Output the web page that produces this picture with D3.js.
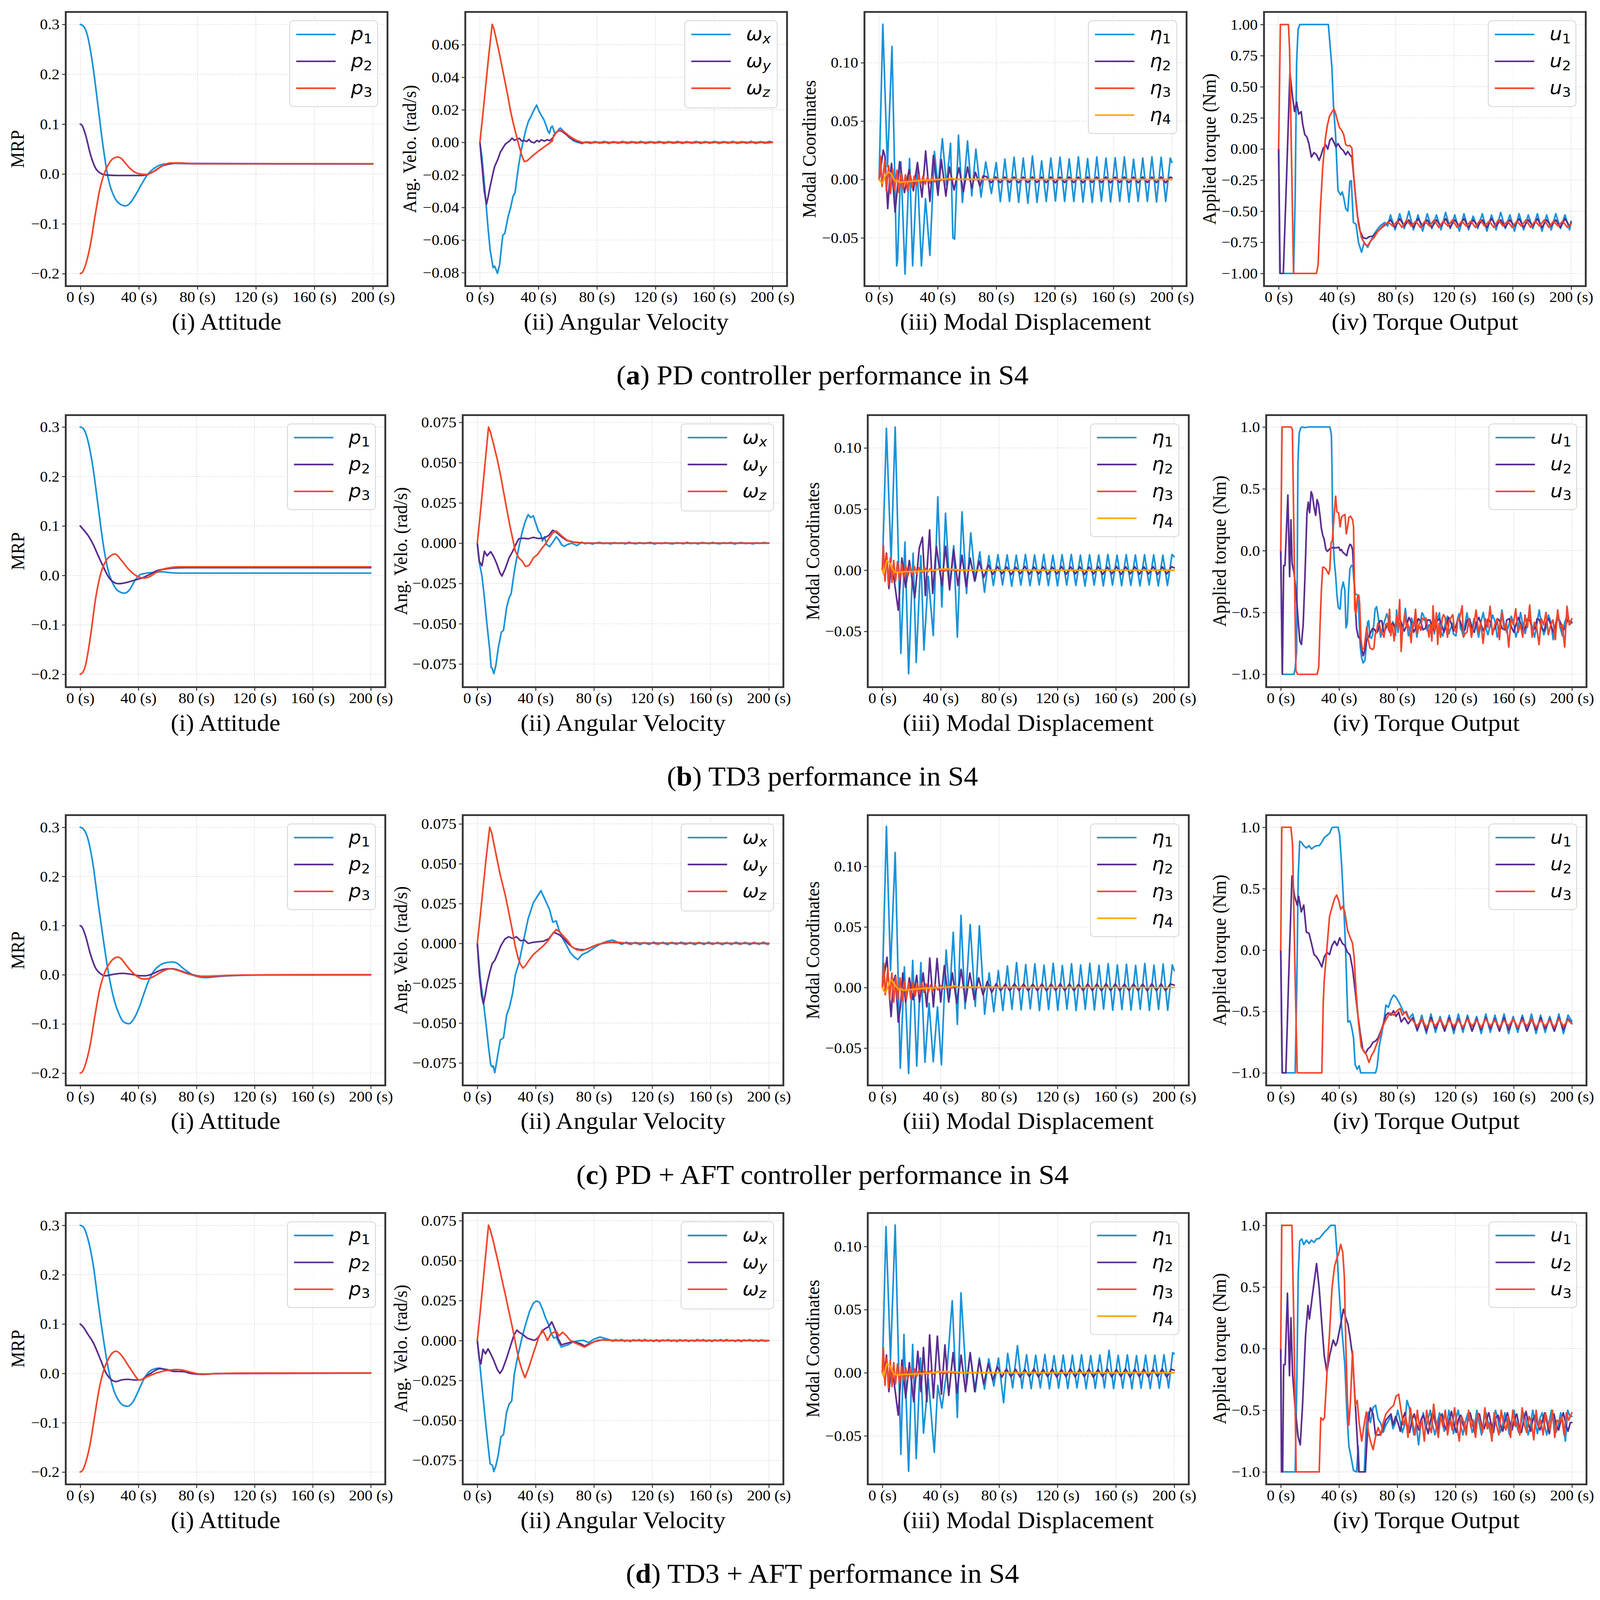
<!DOCTYPE html>
<html><head><meta charset="utf-8">
<script src="https://cdn.jsdelivr.net/npm/d3@7"></script>
<style>html,body{margin:0;padding:0;width:100%;height:100%;overflow:hidden;background:#fff}svg{display:block;width:100vw;height:100vh}</style>
</head><body>
<svg id="fig" viewBox="0 0 4381 4552" preserveAspectRatio="none"></svg>
<script>
// ---------------- DATA ----------------
const X_TICKS = [0,40,80,120,160,200];
const X_DOMAIN = [-10,210];
const Y_DOMAINS = [
 [[-.225,.325],[-.0883,.0801],[-.0913,.1435],[-1.102,1.101]],
 [[-.226,.324],[-.0894,.0795],[-.0956,.1268],[-1.104,1.096]],
 [[-.225,.3247],[-.0891,.0805],[-.0808,.1423],[-1.102,1.099]],
 [[-.225,.325],[-.090,.0798],[-.0884,.1265],[-1.101,1.1]]];
const Y_TICKS_ATT = [-.2,-.1,0,.1,.2,.3];
const Y_TICKS_VEL_A = [-.08,-.06,-.04,-.02,0,.02,.04,.06];
const Y_TICKS_VEL = [-.075,-.05,-.025,0,.025,.05,.075];
const Y_TICKS_MOD = [-.05,0,.05,.1];
const Y_TICKS_TRQ_A = [-1,-.75,-.5,-.25,0,.25,.5,.75,1];
const Y_TICKS_TRQ = [-1,-.5,0,.5,1];
const HALF = 3.139; // half period of the flexible-mode oscillation (s)

const SUBTITLES = ['(i) Attitude','(ii) Angular Velocity','(iii) Modal Displacement','(iv) Torque Output'];
const Y_LABELS = ['MRP','Ang. Velo. (rad/s)','Modal Coordinates','Applied torque (Nm)'];
const CAPTION_TAGS = ['a','b','c','d'];
const CAPTION_TEXTS = [' PD controller performance in S4',' TD3 performance in S4',' PD + AFT controller performance in S4',' TD3 + AFT performance in S4'];

// ===== Row (a) PD =====
const A_p1 = [[0,.3],[2,.297],[5,.276],[8.7,.214],[12.2,.133],[15.7,.052],[19.2,-.011],[22.7,-.043],[26.5,-.059],[30.8,-.064],[33.5,-.06],[36.7,-.047],[42,-.02],[45.5,-.003],[50.7,.012],[57.7,.02],[65,.021],[80,.0203],[200,.02]];
const A_p2 = [[0,.1],[1,.098],[3.5,.079],[7,.038],[10.5,.011],[14,.001],[17.5,-.002],[25,-.003],[35,-.003],[42,-.003],[46,-.001],[50.7,.006],[56,.016],[61,.02],[66,.022],[75,.021],[200,.0203]];
const A_p3 = [[0,-.2],[1.5,-.197],[4,-.178],[7,-.14],[10,-.085],[13,-.035],[16,-.002],[19,.018],[22,.03],[25.5,.034],[28,.031],[31,.021],[34,.011],[37,.004],[41,0],[45,-.001],[49,.003],[53,.011],[57,.018],[62,.022],[68,.022],[80,.0205],[200,.0205]];

const A_wx = [[0,0],[1.5,-.01],[3.5,-.03],[5.5,-.052],[7,-.066],[9,-.077],[10,-.076],[11,-.078],[12,-.0805],[13.5,-.075],[15,-.062],[15.7,-.057],[17,-.056],[19.2,-.046],[21,-.04],[22.7,-.033],[24,-.031],[26.2,-.016],[28,-.006],[29.7,.001],[31.5,.008],[33.2,.013],[35,.016],[37,.02],[38.8,.0229],[40.5,.019],[42,.0165],[43.7,.014],[45,.011],[46.5,.007],[47.5,.0055],[48.5,.009],[49.5,.01],[51,.006],[52.5,.006],[54,.008],[55,.0088],[57,.007],[59,.005],[61,.003],[64,.001],[67,0],[70,-.0008]];
const A_wx_tail = [.0004,-.0007,.0005,-.0006,.0006,-.0007,.0005,-.0006,.0006,-.0007,.0005,-.0006,.0006,-.0007,.0005,-.0006,.0006,-.0007,.0005,-.0006,.0006,-.0007,.0005,-.0006,.0006,-.0007,.0005,-.0006,.0006,-.0007,.0005,-.0006,.0006,-.0007,.0005,-.0006,.0006,-.0007,.0005,-.0006,.0006];
const A_wy = [[0,0],[1.5,-.015],[3,-.03],[4.5,-.038],[5.5,-.034],[7,-.027],[8.7,-.02],[10,-.015],[12.2,-.0105],[14,-.006],[16,-.003],[17.5,-.001],[19,0],[20.5,.001],[22,.0026],[23.5,.0012],[25,.0018],[27,.0025],[28.5,.0008],[30,.0012],[32,.0005],[33.5,.0018],[35,.0003],[37,-.0003],[39,.0012],[40.5,.0004],[42,.0016],[44,.0008],[46,.0016],[48,.001],[50,.003],[52,.006],[54,.0072],[56,.0068],[58,.0055],[61,.0035],[64,.0015],[67,.0003],[70,-.0002],[75,0],[200,0]];
const A_wz = [[0,0],[2,.017],[4,.035],[6,.053],[8.4,.0725],[9.5,.07],[11,.064],[13,.056],[15,.047],[17,.038],[19.2,.028],[21,.019],[23,.011],[25,.004],[27,-.003],[29,-.009],[30.4,-.0118],[32,-.0115],[34,-.01],[36.7,-.0077],[38.5,-.0065],[40.5,-.005],[43.7,-.003],[46,-.0015],[48,-.0002],[49.5,.0008],[50.5,.0045],[52.5,.0065],[54.9,.0074],[57,.0068],[59,.0055],[61,.004],[63.5,.0025],[66,.0012],[69,.0003],[72,-.0002]];
const A_wz_tail = [.0003,-.0003,.0002,-.0004,.0003,-.0003,.0002,-.0003,.0003,-.0004,.0003,-.0003,.0002,-.0004,.0003,-.0003,.0002,-.0003,.0003,-.0004,.0003,-.0003,.0002,-.0004,.0003,-.0003,.0002,-.0003,.0003,-.0004,.0003,-.0003,.0002,-.0004,.0003,-.0003,.0002,-.0003,.0003,-.0004];

const A_eta1 = [[0,0],[2.55,.133],[5.7,.011],[8.8,.114],[12,-.074],[12.6,-.069],[14.9,.015],[17.7,-.081],[20.8,.018],[22.9,-.074],[26,.012],[28.9,-.074],[31.7,-.0165],[34.7,-.065],[37.8,.024],[40.2,-.007],[43.2,.035],[46,-.005],[48.8,.031],[50.4,-.05],[51.6,-.051],[54.2,.038],[56.9,-.0196],[60.4,.033],[63.3,-.014],[66.1,.026],[69.6,-.015],[72.8,.015],[76.7,-.012],[80,.0146],[82.8,-.019]];
const A_eta1_tail = [.0176,-.0188,.0191,-.0196,.0184,-.0203,.0202,-.0196,.016,-.0188,.0184,-.0184,.0191,-.0188,.0176,-.0188,.0194,-.0193,.0179,-.0196,.0194,-.0188,.0184,-.0193,.0187,-.0188,.0194,-.0193,.0174,-.0188,.0184,-.0188,.0194,-.0193,.0191,-.0188,.0184];
const A_eta2 = [[0,0],[1,.008],[2.8,.0252],[4,.02],[5.9,-.0249],[7.2,0],[8.5,.0138],[10.9,-.0279],[12.3,-.01],[14,.0153],[17.3,-.0112],[20.5,.0085],[23.4,-.0097],[26.2,.0146],[29.3,-.015],[31.8,.0244],[34.7,-.0188],[37.1,.0206],[40.2,-.0135],[42.5,.0171],[45.6,-.0142],[48,.0108],[51.2,-.009],[54.5,.01],[57.6,-.0105],[60.4,.0108],[63.3,-.0074],[65.8,.0062],[68.9,-.0059],[71,.003]];
const A_eta2_tail = [.0025,-.0028,.0022,-.0027,.0021,-.0026,.0022,-.0028,.0021,-.0027,.0022,-.0026,.0021,-.0027,.0022,-.0028,.0021,-.0026,.0022,-.0027,.0021,-.0028,.0022,-.0026,.0021,-.0027,.0022,-.0028,.0021,-.0026,.0022,-.0027,.0021,-.0028,.0022,-.0026,.0021,-.0027,.0022,-.0028,.0021];
const A_eta3 = [[0,0],[1,.02],[2,-.006],[3.8,.016],[5,-.01],[6.5,.012],[7.8,-.012],[9.2,.009],[10.5,-.009],[12.2,.008],[13.5,-.011],[15,.005],[16.5,-.008],[18,.004],[19.5,-.01],[21,.004],[22.5,-.007],[24,.003],[25.5,-.005],[27,.004],[28.5,-.004],[30,.003],[31.5,-.004],[33,.002],[34.5,-.003],[36,.002],[38,-.002],[40,.001],[42,-.001],[44,.0006],[47,-.0004],[52,.0003],[60,0],[200,0]];
const A_eta4 = [[0,0],[1,-.002],[2.5,-.003],[3.5,.001],[5,.005],[7,.0065],[8.5,.004],[10,.0005],[11.5,-.002],[13,-.0015],[14.5,-.0025],[17,-.002],[20,-.0018],[25,-.0012],[30,-.0006],[35,-.0004],[40,0],[45,.0003],[50,.0012],[52,0],[60,.0003],[200,0]];

const A_u1 = [[0,0],[.9,-1],[10.2,-1],[11.3,-.4],[12.3,.7],[13.3,.96],[14.5,1],[34,1],[36.4,.66],[37.5,.35],[38.9,.115],[40.6,-.335],[42.4,-.37],[43.5,-.345],[44.5,-.39],[45.9,-.48],[47.3,-.5],[48.7,-.26],[49.7,-.255],[51.1,-.59],[52.9,-.605],[54.6,-.75],[56.7,-.83],[58.5,-.75],[60.9,-.79],[63.4,-.73],[65.5,-.68],[67.9,-.64],[69.7,-.615],[72.5,-.59],[74.5,-.62]];
const A_u1_tail = [-.53,-.65,-.52,-.64,-.5,-.65,-.53,-.66,-.52,-.64,-.53,-.65,-.51,-.64,-.53,-.66,-.52,-.65,-.54,-.64,-.52,-.66,-.53,-.65,-.51,-.64,-.53,-.66,-.52,-.65,-.53,-.64,-.52,-.66,-.53,-.65,-.52,-.64,-.53,-.65];
const A_u2 = [[0,0],[1,-1],[3.2,-1],[5.5,-.2],[7.7,.61],[9.5,.42],[10.9,.3],[12.3,.377],[13.7,.28],[15.4,.3],[16.5,.197],[17.9,.115],[19.3,.097],[20.7,.043],[22.4,-.065],[24.2,-.029],[25.9,-.047],[27.7,-.092],[29.1,-.047],[30.5,.007],[32.2,.034],[33.6,-.002],[35,.07],[36.4,.088],[38.2,.043],[39.2,.016],[40.6,.043],[42.4,.007],[44.1,-.011],[45.9,-.047],[47.3,-.02],[48.7,-.047],[50.1,-.065],[52.2,-.335],[53.9,-.534],[55.7,-.66],[57.8,-.714],[59.9,-.72],[62,-.705],[64.4,-.7],[66.2,-.68],[69.7,-.64],[73.2,-.606]];
const A_u2_tail = [-.57,-.63,-.56,-.62,-.57,-.63,-.56,-.62,-.57,-.63,-.57,-.62,-.56,-.63,-.57,-.62,-.56,-.63,-.57,-.62,-.57,-.63,-.56,-.62,-.57,-.63,-.57,-.62,-.56,-.63,-.57,-.62,-.56,-.63,-.57,-.62,-.57,-.63,-.56,-.62];
const A_u3 = [[0,0],[1.2,1],[6.7,1],[7.5,.8],[10.2,-1],[25.9,-1],[27,-.93],[28.4,-.516],[30.1,-.155],[31.9,.08],[33.3,.188],[34.7,.26],[36.4,.296],[37.8,.323],[38.9,.287],[40.3,.224],[41.7,.17],[43.1,.15],[44.5,.115],[45.9,.034],[47.3,.025],[48.7,.029],[50.1,.007],[51.1,-.173],[52.9,-.426],[54.6,-.606],[56.7,-.714],[59.2,-.768],[60.9,-.777],[62.7,-.741],[65.1,-.714],[67.9,-.66],[71.5,-.615],[75,-.588]];
const A_u3_tail = [-.62,-.58,-.63,-.57,-.62,-.58,-.63,-.58,-.62,-.57,-.63,-.58,-.62,-.57,-.63,-.58,-.62,-.58,-.63,-.57,-.62,-.58,-.63,-.57,-.62,-.58,-.63,-.58,-.62,-.57,-.63,-.58,-.62,-.57,-.63,-.58,-.62,-.58,-.63];

// ===== Row (b) TD3 =====
const B_p1 = [[0,.3],[2,.297],[5.3,.272],[8.8,.217],[12.3,.14],[15.8,.063],[19.4,.008],[22.9,-.019],[26.4,-.032],[30.6,-.036],[34.2,-.028],[37.7,-.01],[41.2,.0014],[45.8,.0045],[51,.006],[56.3,.0073],[61.6,.0055],[68.7,.0045],[200,.0045]];
const B_p2 = [[0,.1],[2,.093],[5.3,.081],[8.8,.063],[12.3,.04],[15.8,.018],[19.4,-.003],[22.9,-.0136],[26.4,-.0168],[31.7,-.0145],[37,-.01],[42.3,-.0055],[47.5,.0014],[52.8,.0095],[58.1,.0127],[65.1,.015],[72.2,.0155],[200,.0155]];
const B_p3 = [[0,-.2],[1.5,-.197],[3.5,-.183],[7,-.124],[10.6,-.046],[14.1,.0036],[17.6,.029],[21.1,.04],[23.9,.0432],[28.2,.031],[33.5,.0118],[38.7,-.0009],[44,-.0055],[47.5,-.003],[51,.0036],[56.3,.0118],[61.6,.0155],[68.7,.0173],[200,.0173]];

const B_wx = [[0,0],[1.4,-.012],[3.2,-.0204],[4.9,-.034],[6.7,-.051],[8.5,-.066],[9.5,-.077],[10.2,-.0776],[11.3,-.081],[12.7,-.076],[14.4,-.065],[16.5,-.0553],[18,-.054],[20.1,-.04],[21.8,-.034],[23.2,-.0315],[25.4,-.0176],[27.1,-.0092],[28.9,-.0008],[30.6,.0061],[32.7,.013],[34.9,.0177],[36.6,.0159],[38.4,.017],[40.1,.0124],[41.9,.0075],[43.3,.0061],[44.7,.0013],[46.1,.004],[47.5,-.0008],[49.6,-.0022],[51.8,.0006],[54.2,.004],[56,.002],[57.7,-.0008],[59.5,-.002],[62,-.0008],[64.8,0],[68.3,-.0015],[71.8,.0006]];
const B_wx_tail = [-.0004,.0003,-.0006,.0002,.0005,-.0003,.0001,-.0005,.0004,-.0002,.0003,-.0005,.0006,-.0001,-.0004,.0004,-.0003,.0002,.0005,-.0006,.0002,-.0003,.0004,-.0002,-.0005,.0003,.0001,-.0004,.0006,-.0003,.0002,-.0005,.0004,.0001,-.0003,.0005,-.0002,-.0004,.0003,-.0001,.0005,-.0006,.0002,.0004,-.0003,.0001,-.0005,.0003,-.0002,.0004];
const B_wy = [[0,0],[1.4,-.0113],[3.2,-.014],[4.9,-.005],[6.7,-.0078],[9.2,-.0053],[10.9,-.0078],[13,-.012],[15.5,-.0183],[16.9,-.0204],[19,-.0162],[21.8,-.0092],[24.3,-.005],[26.8,-.0001],[28.5,.0028],[31.3,.0031],[34.9,.0027],[38.4,.0036],[41.9,.0029],[45.4,.0031],[48.9,.0047],[51.8,.008],[54.2,.0068],[57.7,.004],[61.3,.0017],[66.5,.0006],[75,0],[200,0]];
const B_wz = [[0,0],[2,.018],[4,.037],[6,.056],[7.7,.0721],[9,.069],[11,.062],[13.7,.052],[16,.042],[19,.027],[22.5,.0103],[26.1,-.005],[28.5,-.0092],[30.6,-.0109],[33.1,-.0145],[35.6,-.0137],[38.4,-.0092],[41.2,-.0071],[44,-.0036],[46.5,-.0008],[48.9,.0027],[51.8,.0064],[54.2,.0075],[57.7,.0047],[61.3,.002],[64.8,.0008],[68.3,.0003],[75,0],[200,0]];

const B_eta1 = [[0,0],[2.8,.116],[6,.007],[8.8,.117],[12.7,-.068],[15.5,.023],[18,-.0846],[21.1,.014],[23.2,-.0754],[26.4,.012],[28.5,-.0653],[31.5,-.005],[34.9,-.0534],[38,.06],[40.8,-.03],[43.3,.0466],[46.1,-.0134],[48.9,.02],[51.4,-.0547],[54.6,.0477],[57.7,-.019],[60.6,.0306],[63.7,-.008],[66.8,.015],[70,-.018],[73,.012]];
const B_eta1_tail = [-.0125,.0128,-.012,.0126,-.0131,.0124,-.0122,.0129,-.0127,.0125,-.0121,.013,-.0126,.0124,-.0128,.0127,-.0122,.0129,-.0125,.0124,-.013,.0127,-.0123,.0125,-.0128,.0129,-.0122,.0124,-.0127,.0128,-.0124,.0125,-.0129,.0127,-.0121,.0126,-.0128,.0124,-.0125,.0129];
const B_eta2 = [[0,0],[1.4,-.004],[2.8,.014],[4.5,-.015],[6,.004],[8.1,-.008],[10.9,-.0327],[13.4,.01],[16,-.014],[18.5,.008],[22.2,-.0226],[25.3,.018],[27.5,.027],[29.5,-.0207],[32.4,.033],[34.5,-.019],[37,.0196],[40.8,-.0125],[43.3,.0196],[46.1,-.016],[48.9,.017],[51.8,-.0125],[54.6,.0123],[57.4,-.0134],[60.2,.01],[63.3,-.009],[66.4,.0075],[69.5,-.006],[72.6,.0045]];
const B_eta2_tail = [-.0035,.003,-.003,.0028,-.0036,.0025,-.003,.0032,-.0034,.0027,-.003,.003,-.0035,.0026,-.0031,.0031,-.0033,.0028,-.003,.0029,-.0036,.0027,-.0031,.003,-.0034,.0026,-.003,.0031,-.0035,.0028,-.003,.0029,-.0033,.0027,-.0031,.003,-.0034,.0028,-.003,.0029];
const B_eta3 = [[0,0],[.7,.0205],[1.8,-.009],[3,.013],[4.2,-.012],[5.4,.01],[6.6,-.01],[7.8,.008],[9,-.009],[10.4,.007],[11.8,-.008],[13.2,.005],[14.6,-.006],[16,.004],[17.5,-.005],[19,.003],[20.5,-.004],[22,.003],[23.5,-.003],[25,.002],[27,-.002],[29,.002],[31,-.0015],[33,.0015],[35,-.001],[38,.001],[42,-.0008],[46,.0006],[50,-.0004],[55,.0002],[60,0],[200,0]];
const B_eta4 = [[0,0],[1,-.003],[3,.008],[5,.006],[6.5,.002],[8,-.001],[10,-.002],[13,-.0015],[16,-.001],[20,-.0012],[25,-.0008],[30,-.0003],[35,0],[40,.0008],[45,.001],[50,.0006],[55,0],[200,0]];

const B_u1 = [[0,0],[1.1,-1],[9.1,-1],[10,-.94],[10.9,-.815],[11.3,-.2],[11.8,.7],[12.2,.83],[12.7,.95],[13.6,.99],[14.5,1],[17.1,.995],[18.5,1],[33.7,1],[34.3,.97],[34.8,.93],[35.2,.676],[35.6,.25],[36.1,.065],[36.8,-.09],[37.7,-.2],[38.6,-.36],[39.5,-.46],[40.8,-.474],[41.7,-.318],[42.9,-.254],[44,-.318],[44.8,-.624],[45.7,-.588],[46.6,-.318],[47.5,-.148],[48.6,-.119],[49.6,-.126],[50.2,-.233],[51.1,-.347],[52.1,-.354],[53,-.36],[53.8,-.56],[54.6,-.773],[55.5,-.865],[56.6,-.908],[57.8,-.886],[58.7,-.773],[59.6,-.581],[60.4,-.567],[61.3,-.7],[62.1,-.709],[63,-.688],[63.9,-.595],[64.8,-.474],[65.8,-.453],[66.7,-.517],[67.6,-.6],[68.6,-.7],[69.6,-.646],[70.5,-.6],[71.6,-.56],[72.9,-.51],[73.8,-.546],[74.7,-.66],[75.6,-.631],[76.9,-.574],[77.9,-.6],[78.8,-.688],[79.6,-.48],[80.5,-.66],[81.4,-.588],[82.7,-.574],[83.6,-.66],[84.5,-.574],[85.6,-.467],[86.8,-.6],[87.7,-.688],[88.8,-.66],[89.9,-.545],[91.1,-.6],[92.1,-.56],[93.5,-.7],[94.8,-.6],[96,-.574],[97,-.503],[97.9,-.517],[99.3,-.574],[100.6,-.646],[102,-.6],[103.3,-.6],[104.5,-.56],[105.5,-.673],[106.7,-.56],[107.8,-.545],[109,-.503],[110,-.66],[111.3,-.69],[112.5,-.62],[113.6,-.56],[114.5,-.53],[115.5,-.673],[116.7,-.63],[117.9,-.588],[118.6,-.673],[120.3,-.69],[121.6,-.545],[122.5,-.51],[123.4,-.631],[124.3,-.646],[125.6,-.7],[126.5,-.6],[127.9,-.503]];
const B_u1_tail = [-.6,-.66,-.55,-.6,-.7,-.58,-.5,-.62,-.68,-.6,-.52,-.57,-.7,-.62,-.48,-.6,-.66,-.6,-.53,-.58,-.7,-.63,-.5,-.6,-.67,-.58,-.52,-.62,-.7,-.6,-.48,-.6,-.68,-.62,-.52,-.58,-.72,-.6,-.5,-.62,-.69,-.58,-.52,-.6];
const B_u2 = [[0,0],[1.1,-1],[2,-.12],[2.9,-.12],[4.9,.45],[6.1,-.21],[7,.25],[7.8,-.105],[9.1,-.176],[10.4,-.318],[11.3,-.46],[12.2,-.6],[13.1,-.73],[14.2,-.759],[15.4,-.6],[16.3,-.318],[17.1,-.034],[18,.307],[18.9,.392],[19.8,.307],[20.9,.477],[21.7,.45],[22.9,.35],[24,.285],[24.9,.413],[25.9,.378],[27,.278],[27.9,.179],[28.9,.122],[29.8,.094],[31,.009],[32.1,-.006],[33.2,.009],[34.3,.023],[37.7,.023],[39.9,.027],[40.8,.001],[41.7,.009],[42.6,-.013],[44,-.027],[45.3,-.041],[46.2,.009],[47.5,.051],[48.4,.044],[49.3,.009],[50.2,-.176],[51.1,-.432],[52.1,-.63],[53.3,-.7],[54.6,-.709],[55.5,-.787],[56.6,-.85],[57.8,-.8],[59.1,-.716],[60.4,-.7],[61.8,-.66],[63,-.63],[64.5,-.637],[65.5,-.666],[66.7,-.652],[68,-.567],[69.4,-.567],[70.7,-.66],[72.1,-.631],[73.2,-.602],[74.3,-.574],[75.6,-.602],[76.9,-.588]];
const B_u2_tail = [-.62,-.56,-.55,-.6,-.65,-.6,-.54,-.58,-.66,-.62,-.55,-.57,-.64,-.63,-.56,-.56,-.63,-.65,-.57,-.55,-.6,-.66,-.6,-.54,-.58,-.65,-.62,-.55,-.57,-.64,-.64,-.56,-.55,-.62,-.66,-.58,-.54,-.6,-.65,-.61,-.55,-.58,-.66,-.62,-.55,-.57,-.63,-.64,-.56,-.55,-.62,-.66,-.59,-.54,-.59,-.65,-.62,-.55,-.57,-.65,-.63,-.55,-.56,-.63,-.65,-.57,-.55,-.61,-.66,-.6,-.54,-.58,-.65,-.62,-.56,-.57];
const B_u3 = [[0,0],[.9,1],[7.1,1],[8,.98],[10.4,-.97],[11.6,-1],[25,-1],[26.1,-.94],[27,-.6],[27.9,-.32],[28.8,-.134],[29.6,-.134],[31,-.148],[32.9,-.19],[33.7,-.148],[34.6,.065],[35.4,.08],[36.8,.307],[37.7,.44],[38.6,.314],[39.7,.307],[40.8,.193],[41.7,.27],[43,.285],[44.1,.293],[45,.136],[45.9,.193],[46.8,.27],[48,.278],[49.3,.25],[50,.193],[50.4,-.105],[50.8,-.474],[51.7,-.51],[52.7,-.375],[53.6,-.36],[54.2,-.43],[55.1,-.716],[56,-.8],[57.3,-.787],[58.2,-.7],[59.1,-.616],[60,-.716],[61.3,-.787],[63.1,-.8],[64,-.787],[64.9,-.673],[65.8,-.659],[66.7,-.588],[67.9,-.6],[68.9,-.659],[70,-.673],[70.9,-.7],[72.1,-.595],[73.2,-.588],[74.1,-.645],[74.7,-.474],[75.6,-.688],[76.5,-.6],[77.9,-.73],[78.8,-.6],[79.6,-.531],[80.5,-.63],[81.7,-.396],[82.7,-.815],[83.6,-.645],[84.5,-.6],[85.4,-.503],[86.3,-.616],[87.1,-.588],[88.3,-.63],[89.6,-.744],[90.4,-.588],[91.3,-.616],[92.6,-.474],[93.8,-.673],[94.8,-.6],[96.2,-.645],[97,-.545],[98.4,-.56],[99.7,-.545],[100.9,-.616],[101.8,-.7],[102.9,-.6],[103.8,-.73],[104.6,-.446],[105.7,-.645],[106.9,-.503],[107.8,-.759],[108.7,-.588],[109.8,-.7],[110.9,-.545],[111.8,-.517],[113,-.545],[114.5,-.7],[115.5,-.574],[116.8,-.545],[118.1,-.517],[119.4,-.645],[120.8,-.659],[121.6,-.545],[122.5,-.56],[123.4,-.517],[124.6,-.446],[125.5,-.7],[126.5,-.673],[127.9,-.659]];
const B_u3_tail = [-.55,-.7,-.6,-.48,-.66,-.58,-.75,-.55,-.62,-.45,-.68,-.6,-.55,-.72,-.5,-.63,-.58,-.78,-.55,-.6,-.47,-.66,-.6,-.7,-.52,-.62,-.44,-.7,-.58,-.62,-.76,-.55,-.6,-.5,-.68,-.6,-.56,-.72,-.48,-.62,-.6,-.78,-.45,-.6];

// ===== Row (c) PD + AFT =====
const C_p1 = [[0,.3],[2,.297],[5.3,.276],[8.8,.224],[12.3,.146],[15.8,.073],[19.4,.004],[22.9,-.046],[26.4,-.078],[29.9,-.096],[33.5,-.0995],[37,-.089],[40.5,-.067],[44,-.037],[47.5,-.0094],[51,.009],[54.6,.019],[58.1,.024],[63.4,.026],[66.9,.023],[70.4,.014],[73.9,.0064],[77.5,-.0005],[82.7,-.005],[86.3,-.0058],[93.3,-.004],[103.9,-.0016],[121.5,-.0007],[156.7,0],[200,0]];
const C_p2 = [[0,.1],[1,.098],[3.5,.08],[7,.042],[10.5,.014],[14,.002],[17.5,-.002],[21,0],[25,.002],[29,.003],[33,.002],[37,0],[41,-.002],[45,-.002],[48,0],[52,.005],[56,.01],[60,.012],[63,.0125],[67,.01],[71,.006],[75,.002],[79,-.001],[83,-.003],[87,-.0035],[92,-.003],[100,-.002],[110,-.001],[130,-.0003],[200,0]];
const C_p3 = [[0,-.2],[1.5,-.197],[4,-.178],[7,-.14],[10,-.085],[13,-.035],[16,-.002],[19,.018],[22,.03],[25.7,.036],[28,.033],[31,.022],[34,.011],[37,.002],[40,-.005],[44,-.0087],[48,-.007],[52,-.001],[56,.006],[59,.01],[62.3,.012],[66,.01],[70,.006],[74,.002],[78,-.001],[82,-.003],[86,-.003],[92,-.0025],[100,-.0015],[115,-.0005],[140,0],[200,0]];

const C_wx = [[0,0],[2.1,-.0226],[4.2,-.0367],[6,-.0508],[7.7,-.0649],[9.2,-.0761],[10.2,-.0775],[10.9,-.0768],[12,-.0811],[13.7,-.0719],[15.8,-.0606],[18,-.0592],[20.1,-.045],[22.2,-.0395],[24.3,-.031],[26.1,-.0197],[28.5,-.0127],[31.3,0],[34.9,.0155],[38.4,.0254],[41.2,.0296],[43.7,.0331],[45.4,.0296],[48.2,.024],[49.6,.0211],[51.8,.0134],[54.2,.0141],[56,.0085],[58.8,.0028],[61.3,-.0014],[63.7,-.0056],[66.5,-.0085],[69,-.0102],[71.8,-.007],[75.4,-.0056],[78.9,-.0035],[82.4,-.0014],[85.9,.0003],[89.4,.0014],[93,.0021],[96,.0008]];
const C_wx_tail = [-.0006,.0008,-.0007,.0007,-.0008,.0006,-.0007,.0008,-.0006,.0007,-.0008,.0007,-.0006,.0008,-.0007,.0006,-.0008,.0007,-.0007,.0008,-.0006,.0007,-.0008,.0006,-.0007,.0008,-.0006,.0007,-.0008,.0007,-.0006,.0008,-.0007];
const C_wy = [[0,0],[1.5,-.02],[3,-.033],[4.2,-.038],[5.5,-.032],[6.7,-.0254],[8.5,-.0183],[10.2,-.0127],[12,-.0106],[13.7,-.007],[16.2,-.0014],[19,.0028],[21.5,.0042],[24.3,.0031],[26.8,.0042],[29.6,.0017],[32.4,.0021],[34.9,0],[38.4,.0007],[41.9,.0011],[45.4,.0014],[48.9,.0028],[52.5,.007],[56,.0056],[59.5,.0028],[63,-.0007],[66.5,-.0031],[70.1,-.0039],[73.6,-.0039],[77.1,-.0028],[80.6,-.0014],[85.9,0],[91.2,.0007],[100,.0002],[200,0]];
const C_wz = [[0,0],[2,.017],[4,.035],[6,.053],[8.5,.0729],[10,.069],[11.5,.062],[13.7,.052],[16,.042],[19,.031],[21.5,.02],[24.3,.007],[26,-.0015],[27.8,-.0085],[29.5,-.013],[31.3,-.0155],[33,-.014],[34.9,-.0113],[38.4,-.007],[41.9,-.0042],[45.4,-.0014],[48.9,.0021],[51.8,.0063],[54.2,.0087],[56.7,.007],[59.5,.0042],[62.3,.0014],[64.8,-.0021],[68.3,-.004],[71.8,-.0045],[75.4,-.0035],[78.9,-.0021],[82.4,-.0007],[87.7,.0004],[93,.0008],[98.2,.0006]];
const C_wz_tail = [.0003,-.0004,.0003,-.0003,.0004,-.0003,.0003,-.0004,.0003,-.0003,.0004,-.0003,.0003,-.0004,.0003,-.0003,.0004,-.0003,.0003,-.0004,.0003,-.0003,.0004,-.0003,.0003,-.0004,.0003,-.0003,.0004,-.0003,.0003,-.0004];

const C_eta1 = [[0,0],[2.8,.133],[5.6,.014],[8.8,.1115],[12.3,-.0666],[15.1,.017],[18,-.0709],[20.8,.0224],[23.6,-.0648],[26.4,.0206],[29.2,-.0617],[32,-.013],[34.9,-.0612],[37.8,-.016],[40.5,-.0638],[43.7,.031],[46.1,-.008],[48.6,.0456],[51.4,-.0304],[53.9,.0596],[56.7,-.0174],[60.2,.052],[63.7,-.0156],[66.5,.051],[70.1,-.022],[73.2,.012],[76.4,-.02],[79.5,.014],[82.6,-.019]];
const C_eta1_tail = [.0178,-.018,.0206,-.0185,.019,-.0176,.0195,-.019,.0185,-.0182,.02,-.0188,.0182,-.0178,.0196,-.019,.0186,-.018,.0199,-.0186,.0184,-.0179,.0197,-.0188,.0186,-.0182,.0193,-.0187,.0183,-.018,.0198,-.0189,.0185,-.0181,.0194,-.0188,.0187];
const C_eta2 = [[0,0],[1.5,.012],[3.2,.025],[4.8,-.005],[6,-.024],[7.5,.005],[9,.01],[10.9,-.0286],[12.5,-.015],[14,.012],[16,-.012],[18.5,.008],[21,-.01],[23.5,.01],[25.5,-.012],[28,.012],[30.5,-.016],[32.5,.0243],[35,-.016],[37.5,.024],[40,-.012],[42.5,.018],[45.5,-.012],[48,.012],[51,-.013],[54,.015],[57,-.012],[60,.012],[63,-.01],[66,.008],[69,-.006],[72,.005],[75,-.004]];
const C_eta2_tail = [.003,-.0026,.0029,-.0027,.0031,-.0025,.003,-.0027,.0028,-.0026,.003,-.0027,.0029,-.0025,.0031,-.0026,.003,-.0027,.0028,-.0026,.003,-.0025,.0029,-.0027,.0031,-.0026,.003,-.0027,.0028,-.0025,.003,-.0026,.0029,-.0027,.0031,-.0026,.003,-.0027,.0029];
const C_eta3 = [[0,0],[1,.02],[2,-.006],[3.8,.016],[5,-.01],[6.5,.012],[7.8,-.012],[9.2,.009],[10.5,-.01],[12.2,.008],[13.5,-.011],[15,.005],[16.5,-.009],[18,.004],[19.5,-.009],[21,.004],[22.5,-.007],[24,.003],[25.5,-.005],[27,.004],[28.5,-.004],[30,.003],[31.5,-.004],[33,.002],[34.5,-.003],[36,.002],[38,-.002],[40,.0015],[42,-.001],[44,.0008],[47,-.0005],[50,.0004],[55,0],[200,0]];
const C_eta4 = [[0,0],[1,-.003],[2.5,-.004],[3.5,0],[5,.005],[6.5,.006],[8,.003],[10,0],[11.5,-.002],[13,-.0012],[14.5,-.0025],[17,-.0018],[20,-.0017],[25,-.001],[30,-.0005],[35,-.0003],[40,.0001],[45,.0003],[50,.0014],[52,.0002],[60,.0003],[200,0]];

const C_u1 = [[0,0],[1,-1],[9.9,-1],[11,-.3],[12,.6],[13,.887],[14.1,.878],[15.8,.85],[17.6,.832],[19.4,.85],[21.1,.823],[22.9,.841],[24.6,.85],[26.4,.85],[28.2,.878],[29.9,.915],[31.7,.933],[33.5,.95],[35.2,.997],[36.3,1],[39.4,1],[40.5,.933],[41.9,.677],[43.3,.348],[44.4,.055],[45.1,-.2],[46.1,-.586],[47.5,-.576],[48.6,-.622],[50,-.714],[51.1,-.933],[52.5,-.97],[53.9,-.942],[54.9,-1],[65.1,-1],[66.2,-.95],[67.6,-.787],[69.4,-.677],[70.8,-.586],[72.2,-.448],[73.9,-.467],[75.7,-.403],[77.5,-.366],[79.2,-.384],[81,-.421],[82.7,-.46],[84.5,-.512],[86.3,-.5],[88,-.558]];
const C_u1_tail = [-.52,-.66,-.53,-.68,-.52,-.67,-.54,-.66,-.53,-.68,-.52,-.67,-.53,-.66,-.54,-.68,-.52,-.67,-.53,-.66,-.52,-.68,-.54,-.67,-.53,-.66,-.52,-.68,-.53,-.67,-.54,-.66,-.52,-.68,-.53];
const C_u2 = [[0,0],[1,-1],[3.5,-1],[5.5,-.2],[7.7,.603],[9.5,.438],[11.3,.366],[12.3,.438],[14.1,.311],[15.8,.366],[17.6,.146],[19.4,.137],[21.1,.055],[22.9,-.037],[24.6,-.055],[26.4,-.091],[28.2,-.137],[29.9,-.055],[31.7,-.018],[33.5,-.037],[35.2,.037],[37,.073],[38.7,.037],[40.5,.1],[42.3,.055],[44,.037],[45.8,-.018],[47.5,-.037],[49.3,-.148],[51.1,-.33],[52.8,-.512],[54.6,-.677],[56.3,-.805],[58.1,-.842],[59.9,-.805],[61.6,-.787],[63.4,-.75],[65.1,-.741],[66.9,-.714],[68.7,-.659],[70.4,-.604],[72.2,-.53],[73.9,-.512],[75.7,-.53],[77.5,-.494],[79.2,-.54],[81,-.505],[82.7,-.585],[85,-.55],[87.5,-.6]];
const C_u2_tail = [-.55,-.65,-.56,-.66,-.55,-.64,-.56,-.66,-.55,-.65,-.56,-.64,-.55,-.66,-.56,-.65,-.55,-.64,-.56,-.66,-.55,-.65,-.56,-.64,-.55,-.66,-.56,-.65,-.55,-.64,-.56,-.66,-.55,-.65,-.56];
const C_u3 = [[0,0],[.7,1],[7,1],[8.1,.86],[9.9,-.238],[11.3,-1],[28.2,-1],[29.2,-.42],[29.9,-.24],[31,-.09],[32,.055],[33.5,.274],[35.2,.348],[37,.42],[38.4,.448],[39.8,.403],[41.2,.33],[42.6,.357],[44,.311],[45.8,.165],[47.5,.11],[49.3,.055],[50.4,-.055],[51.8,-.348],[53.5,-.604],[55.3,-.787],[57,-.823],[58.8,-.851],[60.6,-.915],[62.3,-.86],[64.1,-.823],[65.8,-.768],[67.6,-.714],[69.4,-.64],[72.2,-.567],[75,-.512],[77.5,-.53],[79.9,-.494],[82,-.476],[83.5,-.53],[85.6,-.503],[88,-.56]];
const C_u3_tail = [-.57,-.62,-.56,-.63,-.57,-.62,-.56,-.63,-.57,-.62,-.57,-.63,-.56,-.62,-.57,-.63,-.56,-.62,-.57,-.63,-.57,-.62,-.56,-.63,-.57,-.62,-.56,-.63,-.57,-.62,-.57,-.63,-.56,-.62,-.57];

// ===== Row (d) TD3 + AFT =====
const D_p1 = [[0,.3],[2,.297],[5.3,.272],[8.8,.222],[12.3,.145],[15.8,.072],[19.4,.0084],[22.9,-.0326],[26.4,-.055],[29.9,-.0653],[32.7,-.0667],[36.3,-.0576],[39.8,-.0371],[43.3,-.0144],[46.8,.0015],[50.4,.0084],[54.6,.0106],[58.1,.0075],[63.4,.0048],[68.7,.0038],[73.9,.0029],[79.2,-.0008],[84.5,-.002],[89.8,-.0008],[103.9,.0001],[121.5,.0005],[200,.0008]];
const D_p2 = [[0,.1],[2,.094],[5.3,.079],[8.8,.063],[14.1,.0267],[17.6,.0015],[21.1,-.012],[24.6,-.0167],[28.2,-.0135],[32.7,-.012],[37,-.0135],[41.2,-.0135],[45.8,-.0053],[50.4,.0038],[54.6,.0093],[59.9,.0075],[65.1,.0038],[70.4,.0038],[75.7,.0001],[81,-.0017],[86.3,-.002],[93.3,-.0005],[200,.0005]];
const D_p3 = [[0,-.2],[1.5,-.197],[4,-.178],[7,-.14],[10,-.085],[13,-.032],[16,.005],[19,.027],[22,.041],[24.6,.0447],[27,.041],[30,.03],[33,.016],[36,.003],[38.5,-.008],[40.5,-.0135],[43,-.012],[46,-.007],[50,-.002],[54,.002],[58,.005],[62,.0068],[66,.0078],[70,.007],[74,.004],[78,.001],[82,-.001],[88,-.0012],[95,-.0005],[110,.0003],[200,.0008]];

const D_wx = [[0,0],[2.1,-.0181],[3.9,-.035],[5.6,-.0504],[7.4,-.0659],[8.8,-.0771],[9.9,-.0778],[10.6,-.0785],[11.3,-.082],[12.7,-.0785],[14.4,-.0715],[16.2,-.0603],[18,-.0588],[20.1,-.0448],[21.8,-.0399],[23.6,-.0378],[25.4,-.0209],[27.8,-.0097],[30.6,.0015],[33.1,.01],[35.9,.0184],[38.4,.0233],[40.5,.0247],[42.6,.024],[44.7,.0198],[46.8,.0142],[48.9,.01],[50.7,.0044],[52.5,.0015],[54.2,.0022],[56,-.0013],[57.7,-.0041],[59.5,-.0034],[62.3,-.0027],[64.8,-.0013],[67.3,-.0006],[70.1,-.0001],[72.9,.0001],[76.4,-.0013],[79.9,.0008],[84.2,.0022],[87.7,.0013],[91.2,.0004]];
const D_wx_tail = [-.0005,.0006,-.0003,.0007,-.0006,.0002,-.0007,.0005,-.0002,.0006,-.0005,.0007,-.0004,.0003,-.0006,.0005,-.0007,.0004,-.0002,.0006,-.0005,.0003,-.0007,.0006,-.0004,.0005,-.0006,.0002,-.0005,.0007,-.0003,.0006,-.0006,.0004,-.0007,.0005,-.0003,.0006,-.0005,.0007,-.0004,.0003,-.0006,.0005,-.0007,.0004,-.0002,.0006,-.0005,.0003,-.0006,.0005,-.0004];
const D_wy = [[0,0],[1.4,-.0111],[2.5,-.0146],[3.9,-.0055],[5.6,-.0083],[7.4,-.0052],[9.2,-.0083],[11.3,-.0125],[13.7,-.0181],[15.5,-.0206],[17.3,-.0181],[20.1,-.0111],[22.5,-.0041],[25,.0029],[27.1,.0065],[28.9,.0051],[31.3,.0037],[34.2,.0015],[36.6,.0008],[39.1,.0001],[41.2,.0013],[43.7,.0044],[46.1,.0072],[48.9,.0086],[51.1,.0117],[53.2,.0072],[55.3,.0015],[57.7,-.0027],[60.2,-.002],[63,-.0013],[65.8,-.0006],[68.3,-.0013],[70.8,-.002],[73.6,-.0034],[77.1,-.002],[80.6,-.0006],[85.9,.0004],[95,0],[200,0]];
const D_wz = [[0,0],[2,.018],[4,.037],[6,.056],[7.7,.0722],[9,.069],[11,.062],[13.7,.0514],[16,.042],[19,.0296],[21.5,.019],[24.3,.0072],[26.5,-.003],[28.5,-.0118],[30.5,-.018],[32.7,-.0232],[34.9,-.018],[38.4,-.0083],[41.9,.0015],[44.7,.0067],[46.8,.0029],[48.2,.0001],[50.7,.0044],[54.2,.0058],[56,.0029],[58.5,.0052],[61.3,.0029],[63.7,.0001],[66.5,-.0013],[70.1,-.0027],[73.6,-.0041],[76.4,-.0027],[78.9,-.0013],[82.4,.0001],[85.9,.0004],[95,0],[200,0]];

const D_eta1 = [[0,0],[2.5,.1157],[5.6,.01],[8.8,.117],[12.7,-.0647],[14.8,.0304],[18,-.078],[20.8,.0224],[23.2,-.068],[26.1,.0117],[28.2,-.0478],[31.5,-.005],[35.6,-.063],[38,-.01],[40.8,-.028],[44.5,.005],[47.9,.057],[51.4,-.0354],[53.9,.0633],[57.7,-.0096],[60.2,.0153],[63.7,-.015],[66.5,.0117],[70,-.013],[72.9,.011],[76.4,-.0105],[79.6,.0117],[83.1,-.0238],[85.9,.0153],[89.3,-.012],[92.6,.0215]];
const D_eta1_tail = [-.0123,.0142,-.0126,.0138,-.012,.0145,-.0128,.0136,-.0122,.014,-.0125,.0139,-.012,.0143,-.0127,.0137,-.0124,.0141,-.0121,.0178,-.0126,.0138,-.0123,.0142,-.0127,.0136,-.0122,.014,-.0125,.0139,-.0124,.0143,-.0121];
const D_eta2 = [[0,0],[1.4,-.004],[2.8,.014],[4.5,-.015],[6,.004],[8.1,-.008],[10.9,-.0336],[13.4,.01],[16,-.02],[18.5,.008],[21.5,-.023],[24.3,.017],[26.5,-.015],[28.2,.02],[30.5,-.023],[32.4,.03],[35,-.02],[37.7,.029],[40.5,-.017],[42.9,.022],[45.5,-.018],[48.5,.016],[51.2,-.016],[54,.014],[57,-.015],[60.2,.016],[63.3,-.015],[66.4,.01],[69.5,-.009],[72.6,.007],[75.7,-.006],[78.8,.005]];
const D_eta2_tail = [-.0035,.003,-.0032,.0028,-.0036,.0026,-.003,.0031,-.0034,.0027,-.0031,.003,-.0035,.0026,-.0031,.0031,-.0033,.0028,-.003,.0029,-.0036,.0027,-.0031,.003,-.0034,.0026,-.003,.0031,-.0035,.0028,-.003,.0029,-.0033,.0027,-.0031,.003,-.0034,.0028];
const D_eta3 = [[0,0],[.7,.02],[1.8,-.01],[3,.012],[4.2,-.012],[5.4,.01],[6.6,-.011],[7.8,.008],[9,-.009],[10.4,.007],[11.8,-.008],[13.2,.005],[14.6,-.006],[16,.004],[17.5,-.005],[19,.003],[20.5,-.004],[22,.003],[23.5,-.003],[25,.002],[27,-.002],[29,.002],[31,-.0015],[33,.0015],[35,-.001],[38,.001],[42,-.0008],[46,.0006],[50,-.0004],[55,.0002],[60,0],[200,0]];
const D_eta4 = [[0,0],[1,-.003],[3,.007],[5,.006],[6.5,.002],[8,-.001],[10,-.002],[13,-.0015],[16,-.0012],[20,-.0012],[25,-.0008],[30,-.0003],[35,0],[40,.0008],[45,.001],[50,.0005],[55,0],[200,0]];

const D_u1 = [[0,0],[.7,-1],[9.9,-1],[11,-.3],[12,.6],[13,.871],[14.4,.89],[15.8,.844],[17.6,.88],[19.4,.853],[21.1,.88],[22.9,.862],[24.6,.89],[26.4,.893],[28.2,.917],[29.9,.944],[31.7,.963],[33.5,.99],[34.5,1],[37.3,1],[38.7,.76],[39.8,.525],[41.2,.27],[42.6,.07],[44,-.13],[45.4,-.51],[46.8,-.79],[48.2,-.875],[50,-.99],[52.1,-1],[53.2,-.79],[53.9,-1],[57.4,-1],[58.8,-.605],[60.2,-.514],[61.6,-.6],[63.4,-.478],[65.1,-.459],[66.9,-.57],[68.7,-.605],[70.4,-.678],[72.2,-.62],[73.9,-.587]];
const D_u1_tail = [-.55,-.65,-.6,-.5,-.58,-.68,-.62,-.42,-.48,-.6,-.7,-.62,-.78,-.6,-.52,-.65,-.58,-.5,-.62,-.7,-.6,-.52,-.58,-.67,-.63,-.5,-.6,-.69,-.57,-.5,-.62,-.7,-.6,-.53,-.58,-.68,-.63,-.5,-.6,-.7,-.58,-.52,-.62,-.69,-.6,-.5,-.57,-.68,-.63,-.52,-.6,-.7,-.58,-.5,-.62,-.68,-.6,-.52,-.58,-.7,-.63,-.5,-.6,-.69,-.57,-.52,-.62,-.7,-.6,-.5,-.58,-.68,-.62,-.52,-.6,-.75,-.5,-.55];
const D_u2 = [[0,0],[.5,-1],[1.3,-1],[2,-.13],[3,-.13],[4.6,.45],[6,-.22],[7,.25],[8.1,-.2],[10,-.5],[12,-.72],[13.4,-.78],[15,-.45],[17,.1],[18.7,.35],[19.7,.24],[21.5,.41],[24.6,.69],[26.4,.49],[28.2,.2],[29.9,-.06],[31.7,-.19],[33.5,-.06],[36,.07],[37.7,.024],[38.7,.05],[41.2,.2],[43,.32],[44.7,.25],[46.1,.2],[47.5,.1],[49.3,-.06],[51.1,-.42],[52.8,-.79],[53.5,-1],[58.1,-1],[59.9,-.6],[61.6,-.48],[63.4,-.53],[65.1,-.7],[68.7,-.7],[72.2,-.58],[75.7,-.53]];
const D_u2_tail = [-.62,-.55,-.6,-.67,-.57,-.52,-.63,-.68,-.58,-.53,-.61,-.66,-.57,-.54,-.62,-.69,-.58,-.52,-.6,-.67,-.56,-.53,-.63,-.66,-.58,-.51,-.61,-.68,-.57,-.54,-.62,-.66,-.59,-.52,-.6,-.69,-.57,-.53,-.63,-.65,-.58,-.52,-.61,-.68,-.56,-.54,-.62,-.67,-.58,-.52,-.6,-.66,-.57,-.53,-.63,-.68,-.58,-.51,-.61,-.67,-.57,-.54,-.62,-.66,-.59,-.52,-.6,-.69,-.57,-.53,-.63,-.66,-.58,-.52,-.61,-.67,-.6];
const D_u3 = [[0,0],[.7,1],[7.7,1],[9,.2],[10.6,-1],[26.4,-1],[27.5,-.56],[28.9,-.58],[30,-.56],[32,-.15],[33.5,.124],[35.2,.49],[37,.67],[38.7,.74],[39.8,.77],[41.2,.845],[42.6,.78],[43.7,.58],[44.7,.033],[45.8,-.42],[46.8,-.62],[47.9,-.42],[49.3,-.02],[51.1,-.46],[52.5,-.42],[53.9,-.605],[55.6,-.75],[57.4,-.605],[58.8,-.514],[60.2,-.678],[61.6,-.75],[63.4,-.82],[65.1,-.715],[66.9,-.64],[68.7,-.7],[70.4,-.6],[72.2,-.53],[75.7,-.48],[77.5,-.46],[79.2,-.386],[81,-.37]];
const D_u3_tail = [-.5,-.62,-.55,-.72,-.48,-.6,-.7,-.5,-.65,-.58,-.75,-.5,-.62,-.68,-.45,-.6,-.72,-.55,-.63,-.5,-.7,-.58,-.66,-.48,-.62,-.75,-.55,-.6,-.7,-.5,-.64,-.58,-.72,-.52,-.6,-.68,-.48,-.65,-.6,-.75,-.52,-.62,-.7,-.5,-.6,-.66,-.55,-.72,-.5,-.63,-.6,-.7,-.48,-.62,-.68,-.55,-.6,-.74,-.5,-.64,-.58,-.7,-.52,-.6,-.66,-.5,-.72,-.58,-.6,-.55,-.7,-.52,-.58];

// ---------------- assembly helpers ----------------
function withTail(head, t0, dt, vals, end) {
  const pts = head.concat(vals.map((v, i) => [t0 + i * dt, v]));
  if (end) pts.push(...end);
  return pts.filter(p => p[0] <= 200);
}

const BLUE = '#1a93d9', PURPLE = '#5a2d8e', RED = '#f1472d', ORANGE = '#ffa500';

const ROWS = [
 { att:[A_p1,A_p2,A_p3],
   vel:[withTail(A_wx,72.5,HALF,A_wx_tail,[[200,0]]), A_wy, withTail(A_wz,74.1,HALF,A_wz_tail,[[200,0]])],
   mod:[withTail(A_eta1,85.9,HALF,A_eta1_tail,[[200,.0146]]), withTail(A_eta2,73.3,HALF,A_eta2_tail,[[200,.0015]]), A_eta3, A_eta4],
   trq:[withTail(A_u1,76.5,HALF,A_u1_tail,[[200,-.58]]), withTail(A_u2,76.5,HALF,A_u2_tail,[[200,-.59]]), withTail(A_u3,78.1,HALF,A_u3_tail,[[200,-.6]])],
   velTicks:Y_TICKS_VEL_A, velFmt:'.2f', trqTicks:Y_TICKS_TRQ_A, trqFmt:'.2f' },
 { att:[B_p1,B_p2,B_p3],
   vel:[withTail(B_wx,74,2.5,B_wx_tail,[[200,0]]), B_wy, B_wz],
   mod:[withTail(B_eta1,76.1,HALF,B_eta1_tail,[[200,.011]]), withTail(B_eta2,75.7,HALF,B_eta2_tail,[[200,.002]]), B_eta3, B_eta4],
   trq:[withTail(B_u1,129.5,1.6,B_u1_tail,[[200,-.58]]), withTail(B_u2,78.5,1.6,B_u2_tail,[[200,-.58]]), withTail(B_u3,129.4,1.6,B_u3_tail,[[200,-.55]])],
   velTicks:Y_TICKS_VEL, velFmt:'.3f', trqTicks:Y_TICKS_TRQ, trqFmt:'.1f' },
 { att:[C_p1,C_p2,C_p3],
   vel:[withTail(C_wx,99,HALF,C_wx_tail,[[200,0]]), C_wy, withTail(C_wz,101.3,HALF,C_wz_tail,[[200,0]])],
   mod:[withTail(C_eta1,85.7,HALF,C_eta1_tail,[[200,.014]]), withTail(C_eta2,78,HALF,C_eta2_tail,[[200,.002]]), C_eta3, C_eta4],
   trq:[withTail(C_u1,90.6,HALF,C_u1_tail,[[200,-.58]]), withTail(C_u2,90.6,HALF,C_u2_tail,[[200,-.6]]), withTail(C_u3,90.6,HALF,C_u3_tail,[[200,-.6]])],
   velTicks:Y_TICKS_VEL, velFmt:'.3f', trqTicks:Y_TICKS_TRQ, trqFmt:'.1f' },
 { att:[D_p1,D_p2,D_p3],
   vel:[withTail(D_wx,93,2,D_wx_tail,[[200,0]]), D_wy, D_wz],
   mod:[withTail(D_eta1,95.7,HALF,D_eta1_tail,[[199,.016],[200,.015]]), withTail(D_eta2,81.9,HALF,D_eta2_tail,[[200,.002]]), D_eta3, D_eta4],
   trq:[withTail(D_u1,75.5,1.6,D_u1_tail,[[200,-.55]]), withTail(D_u2,77.3,1.6,D_u2_tail,[[200,-.6]]), withTail(D_u3,82.6,1.6,D_u3_tail,[[200,-.52]])],
   velTicks:Y_TICKS_VEL, velFmt:'.3f', trqTicks:Y_TICKS_TRQ, trqFmt:'.1f' }
];

// ---------------- layout ----------------
const PANEL_Y = [[34,814],[1181,1955],[2319,3088],[3451,4223]];
const PX_A = [[180,1061],[1274,2155],[2367,3249],[3461,4342]];
const PX_B = [[180,1055],[1267,2145],[2376,3255],[3467,4344]];
const PANEL_X = [PX_A, PX_B, PX_B, PX_B];
const YLABEL_X = [[48,1122,2216,3311],[49,1097,2226,3339],[49,1097,2226,3339],[49,1097,2226,3339]];
const LEG_W = [241,253,242,240];

const svg = d3.select('#fig');
svg.append('rect').attr('width',4381).attr('height',4552).attr('fill','#fff');
const SERIF = "'Liberation Serif','Times New Roman',Times,serif";
const SANS = "'DejaVu Sans',sans-serif";

function drawPanel(r, c, cfg) {
  const [x0, x1] = PANEL_X[r][c], [y0, y1] = PANEL_Y[r];
  const x = d3.scaleLinear().domain(X_DOMAIN).range([x0, x1]);
  const y = d3.scaleLinear().domain(Y_DOMAINS[r][c]).range([y1, y0]);
  const g = svg.append('g');
  const cid = `clip${r}${c}`;
  g.append('clipPath').attr('id', cid).append('rect')
    .attr('x', x0).attr('y', y0).attr('width', x1 - x0).attr('height', y1 - y0);

  const grid = g.append('g').attr('stroke', '#c4c4c4').attr('stroke-width', 1.8).attr('stroke-dasharray', '2,4');
  grid.selectAll('.gx').data(X_TICKS).join('line')
    .attr('x1', d => x(d)).attr('x2', d => x(d)).attr('y1', y0).attr('y2', y1);
  grid.selectAll('.gy').data(cfg.yticks).join('line')
    .attr('x1', x0).attr('x2', x1).attr('y1', d => y(d)).attr('y2', d => y(d));

  const line = d3.line().x(d => x(d[0])).y(d => y(d[1])).curve(cfg.curve);
  const lines = g.append('g').attr('clip-path', `url(#${cid})`);
  cfg.series.forEach((s, i) => {
    lines.append('path').attr('d', line(s)).attr('fill', 'none')
      .attr('stroke', cfg.colors[i]).attr('stroke-width', 4.5)
      .attr('stroke-linejoin', 'round').attr('stroke-linecap', 'round');
  });

  const fx = d3.format(cfg.yfmt);
  const xa = g.append('g').attr('transform', `translate(0,${y1})`)
    .call(d3.axisBottom(x).tickValues(X_TICKS).tickFormat(d => `${d} (s)`).tickSize(10).tickPadding(5));
  const ya = g.append('g').attr('transform', `translate(${x0},0)`)
    .call(d3.axisLeft(y).tickValues(cfg.yticks).tickFormat(d => fx(d)).tickSize(10).tickPadding(7));
  [xa, ya].forEach(a => {
    a.select('.domain').remove();
    a.selectAll('line').attr('stroke', '#333').attr('stroke-width', 2.6);
    a.selectAll('text').attr('font-family', SERIF).attr('font-size', 43).attr('fill', '#000');
  });

  g.append('rect').attr('x', x0).attr('y', y0).attr('width', x1 - x0).attr('height', y1 - y0)
    .attr('fill', 'none').attr('stroke', '#333').attr('stroke-width', 5);

  g.append('text').attr('transform', `translate(${YLABEL_X[r][c]},${(y0 + y1) / 2}) rotate(-90)`)
    .attr('text-anchor', 'middle').attr('dominant-baseline', 'central')
    .attr('font-family', SERIF).attr('font-size', 51).attr('fill', '#000').text(Y_LABELS[c]);

  const n = cfg.legend.length;
  const lw = LEG_W[c], lh = n === 4 ? 321 : (c === 1 ? 248 : 244);
  const lx = x1 - 27 - lw, ly = y0 + 25;
  const lg = g.append('g');
  lg.append('rect').attr('x', lx).attr('y', ly).attr('width', lw).attr('height', lh)
    .attr('rx', 10).attr('fill', '#fff').attr('fill-opacity', 0.8)
    .attr('stroke', '#d4d4d4').attr('stroke-width', 2.2);
  cfg.legend.forEach((it, i) => {
    const cy = ly + 39 + i * 76.5;
    lg.append('line').attr('x1', lx + 18).attr('x2', lx + 126).attr('y1', cy).attr('y2', cy)
      .attr('stroke', cfg.colors[i]).attr('stroke-width', 4.5);
    const t = lg.append('text').attr('x', lx + 168).attr('y', cy + 17)
      .attr('font-family', SANS).attr('font-size', 54).attr('fill', '#000');
    t.append('tspan').attr('font-style', 'italic').text(it[0]);
    t.append('tspan').attr('font-size', 38).attr('dy', 8)
      .attr('font-style', /[xyz]/.test(it[1]) ? 'italic' : 'normal').text(it[1]);
  });

  svg.append('text').attr('x', (x0 + x1) / 2).attr('y', y1 + 124).attr('text-anchor', 'middle')
    .attr('font-family', SERIF).attr('font-size', 68).attr('fill', '#000').text(SUBTITLES[c]);
}

ROWS.forEach((R, r) => {
  drawPanel(r, 0, { series: R.att, colors: [BLUE, PURPLE, RED], yticks: Y_TICKS_ATT, yfmt: '.1f',
    curve: d3.curveMonotoneX, legend: [['p','1'],['p','2'],['p','3']] });
  drawPanel(r, 1, { series: R.vel, colors: [BLUE, PURPLE, RED], yticks: R.velTicks, yfmt: R.velFmt,
    curve: d3.curveLinear, legend: [['\u03c9','x'],['\u03c9','y'],['\u03c9','z']] });
  drawPanel(r, 2, { series: R.mod, colors: [BLUE, PURPLE, RED, ORANGE], yticks: Y_TICKS_MOD, yfmt: '.2f',
    curve: d3.curveLinear, legend: [['\u03b7','1'],['\u03b7','2'],['\u03b7','3'],['\u03b7','4']] });
  drawPanel(r, 3, { series: R.trq, colors: [BLUE, PURPLE, RED], yticks: R.trqTicks, yfmt: R.trqFmt,
    curve: d3.curveLinear, legend: [['u','1'],['u','2'],['u','3']] });

  const cap = svg.append('text').attr('x', 2252).attr('y', PANEL_Y[r][1] + 280).attr('text-anchor', 'middle')
    .attr('font-family', SERIF).attr('font-size', 78).attr('fill', '#000');
  cap.append('tspan').text('(');
  cap.append('tspan').attr('font-weight', 'bold').text(CAPTION_TAGS[r]);
  cap.append('tspan').text(')' + CAPTION_TEXTS[r]);
});
</script>
</body></html>
